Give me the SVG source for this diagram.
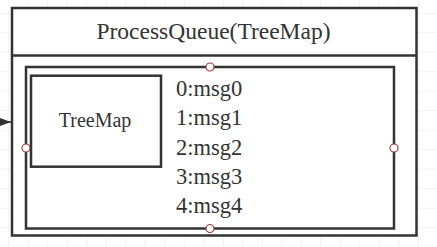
<svg xmlns="http://www.w3.org/2000/svg" width="437" height="247" viewBox="0 0 437 247">
  <defs>
    <pattern id="grid" x="8.3" y="12.7" width="19.5" height="19.5" patternUnits="userSpaceOnUse">
      <path d="M0 0 H19.5 M0 0 V19.5" fill="none" stroke="#e6e6e6" stroke-width="1"/>
    </pattern>
    <marker id="arrow" viewBox="0 0 11 8" refX="11" refY="4" markerWidth="11" markerHeight="8" markerUnits="userSpaceOnUse" orient="auto">
      <path d="M0 0 L11 4 L0 8 Z" fill="#333"/>
    </marker>
  </defs>
  <style>
    .box { fill: #fff; stroke: #333; stroke-width: 2.5; }
    .port { fill: #fff; stroke: #a33a3a; stroke-width: 1.2; }
    .t { font-family: "Liberation Serif", "Times New Roman", serif; fill: #333; }
  </style>
  <rect width="437" height="247" fill="#fff"/>
  <rect width="437" height="247" fill="url(#grid)"/>
  <g id="connectors">
    <path d="M-20 122 H11" stroke="#333" stroke-width="1.5" fill="none" marker-end="url(#arrow)"/>
  </g>
  <g id="processqueue">
    <rect class="box" x="12" y="8" width="404.5" height="227.5"/>
    <line x1="12" y1="55.5" x2="416.5" y2="55.5" stroke="#333" stroke-width="2.5"/>
    <text class="t" x="213.5" y="38.5" font-size="23.5" text-anchor="middle">ProcessQueue(TreeMap)</text>
  </g>
  <g id="inner">
    <rect class="box" x="26" y="67" width="368" height="161.5"/>
    <text class="t" x="176" y="96" font-size="22.5">0:msg0</text>
    <text class="t" x="176" y="125.3" font-size="22.5">1:msg1</text>
    <text class="t" x="176" y="154.5" font-size="22.5">2:msg2</text>
    <text class="t" x="176" y="183.8" font-size="22.5">3:msg3</text>
    <text class="t" x="176" y="213" font-size="22.5">4:msg4</text>
  </g>
  <g id="treemap">
    <rect class="box" x="31" y="75.7" width="130" height="91"/>
    <text class="t" x="95" y="127.3" font-size="20" text-anchor="middle">TreeMap</text>
  </g>
  <g id="ports">
    <circle class="port" cx="210" cy="67" r="4"/>
    <circle class="port" cx="26" cy="148" r="4"/>
    <circle class="port" cx="394" cy="148" r="4"/>
    <circle class="port" cx="210" cy="228.5" r="4"/>
  </g>
</svg>
